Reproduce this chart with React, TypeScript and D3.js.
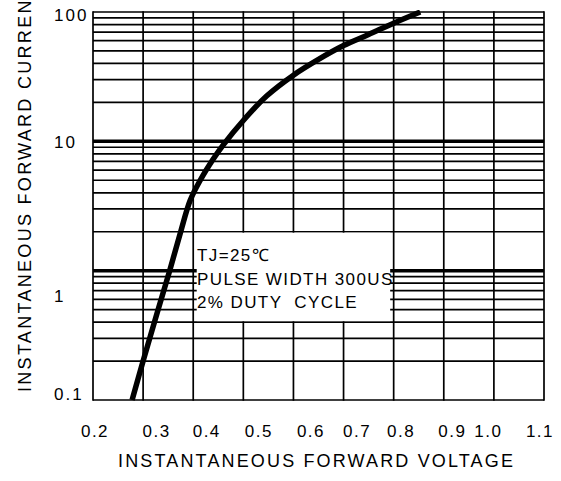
import React from "react";
import * as d3 from "d3";

const W = 561;
const H = 481;

// Curve: forward voltage (V) vs forward current (A)
const voltage = [0.278, 0.3, 0.33, 0.353, 0.375, 0.394, 0.414, 0.44, 0.46, 0.5, 0.547, 0.6, 0.65, 0.7, 0.75, 0.8, 0.853];
const current = [0.1, 0.2, 0.5, 1.0, 2.0, 3.5, 5.0, 7.3, 9.4, 14.5, 22.5, 32.5, 43, 55, 67, 82, 100];

const xGrid = [0.2, 0.3, 0.4, 0.5, 0.6, 0.7, 0.8, 0.9, 1.0, 1.1];
const xTickLabels = ["0.2", "0.3", "0.4", "0.5", "0.6", "0.7", "0.8", "0.9", "1.0", "1.1"];
const xTickLabelAt = [0.204, 0.327, 0.427, 0.531, 0.635, 0.727, 0.815, 0.917, 0.989, 1.092];

const yDecades = [0.1, 1, 10];
const yTickLabels = ["0.1", "1", "10", "100"];
const yTickLabelAt = [0.112, 0.64, 10, 95];

const noteLines = ["TJ=25\u2103", "PULSE WIDTH 300US", "2% DUTY  CYCLE"];
const noteBox = { v0: 0.405, v1: 0.795, i0: 0.4, i1: 2 };

const xTitle = "INSTANTANEOUS FORWARD VOLTAGE";
const yTitle = "INSTANTANEOUS FORWARD CURRENT";

export default function App() {
  const x = d3.scaleLinear().domain([0.2, 1.1]).range([93, 544]);
  const y = d3.scaleLog().domain([0.1, 100]).range([400, 12]);

  const yGrid: { v: number; thick: boolean }[] = [];
  yDecades.forEach((d) => {
    for (let k = 1; k <= 9; k++) yGrid.push({ v: k * d, thick: k === 1 && d !== 0.1 });
  });
  yGrid.push({ v: 100, thick: false });

  const pts: [number, number][] = voltage.map((v, i) => [v, current[i]]);
  const line = d3
    .line<[number, number]>()
    .x((d) => x(d[0]))
    .y((d) => y(d[1]))
    .curve(d3.curveCatmullRom.alpha(0.5));

  const font = "'Liberation Sans', Arial, sans-serif";
  const boxX0 = x(noteBox.v0);
  const boxX1 = x(noteBox.v1);
  const boxY0 = y(noteBox.i1);
  const boxY1 = y(noteBox.i0);

  return (
    <svg
      width={W}
      height={H}
      style={{ position: "absolute", left: 0, top: 0, background: "#fff" }}
    >
      <rect x={0} y={0} width={W} height={H} fill="#fff" />
      {/* horizontal grid */}
      {yGrid.map((g, i) => (
        <line
          key={"h" + i}
          x1={x(0.2)}
          x2={x(1.1)}
          y1={y(g.v)}
          y2={y(g.v)}
          stroke="#000"
          strokeWidth={g.thick ? 3.5 : 1.7}
        />
      ))}
      {/* vertical grid */}
      {xGrid.map((v, i) => (
        <line
          key={"v" + i}
          x1={x(v)}
          x2={x(v)}
          y1={y(100) - 0.8}
          y2={y(0.1) + 0.8}
          stroke="#000"
          strokeWidth={1.7}
        />
      ))}
      {/* note box */}
      <rect
        x={boxX0 + 1}
        y={boxY0 + 1}
        width={boxX1 - boxX0 - 2}
        height={boxY1 - boxY0 - 2}
        fill="#fff"
      />
      {noteLines.map((t, i) => (
        <text
          key={"n" + i}
          x={197}
          y={261 + i * 23.5}
          fontFamily={font}
          fontSize={17}
          letterSpacing={1.4}
          fill="#000"
          style={{ whiteSpace: "pre" }}
        >
          {t}
        </text>
      ))}
      {/* curve */}
      <path d={line(pts) || ""} fill="none" stroke="#000" strokeWidth={5.5} strokeLinejoin="round" />
      {/* x tick labels */}
      {xTickLabels.map((t, i) => (
        <text
          key={"xt" + i}
          x={x(xTickLabelAt[i])}
          y={437}
          textAnchor="middle"
          fontFamily={font}
          fontSize={17}
          letterSpacing={1.5}
          fill="#000"
        >
          {t}
        </text>
      ))}
      {/* y tick labels */}
      {yTickLabels.map((t, i) => (
        <text
          key={"yt" + i}
          x={54}
          y={y(yTickLabelAt[i]) + 6.5}
          textAnchor="start"
          fontFamily={font}
          fontSize={17}
          letterSpacing={2}
          fill="#000"
        >
          {t}
        </text>
      ))}
      {/* axis titles */}
      <text x={118} y={467} fontFamily={font} fontSize={18} letterSpacing={2.15} fill="#000">
        {xTitle}
      </text>
      <text
        x={-392}
        y={31}
        transform="rotate(-90)"
        fontFamily={font}
        fontSize={18}
        letterSpacing={2.3}
        fill="#000"
      >
        {yTitle}
      </text>
    </svg>
  );
}
